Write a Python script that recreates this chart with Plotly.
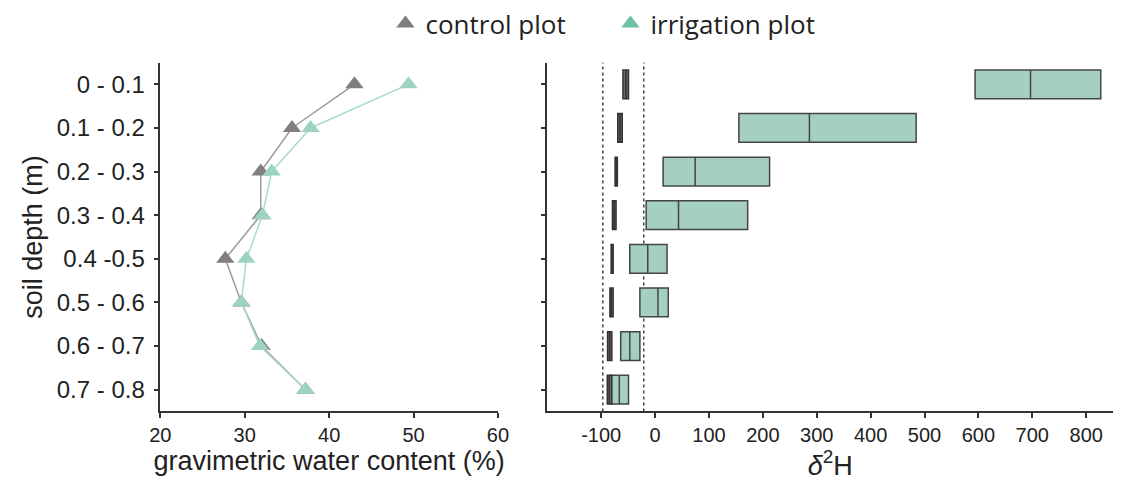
import plotly.graph_objects as go

depths = ["0 - 0.1", "0.1 - 0.2", "0.2 - 0.3", "0.3 - 0.4",
          "0.4 -0.5", "0.5 - 0.6", "0.6 - 0.7", "0.7 - 0.8"]

# gravimetric water content (%)
gwc_ticks = [20, 30, 40, 50, 60]
gwc_control = [43.0, 35.6, 31.9, 31.9, 27.7, 29.6, 32.0, 37.2]
gwc_irrigation = [49.4, 37.8, 33.2, 32.1, 30.2, 29.6, 31.8, 37.2]

# delta 2H boxes
d2h_ticks = [-100, 0, 100, 200, 300, 400, 500, 600, 700, 800]
d2h_ticklabels = ["-100", "0", "100", "200", "300", "400", "500", "600", "700", "800"]

ctrl_q1 = [-59.6, -69.3, -74.2, -79.1, -81.5, -83.8, -88.2, -88.7]
ctrl_med = [-54.2, -65.1, -72.4, -76.0, -79.6, -81.5, -84.2, -85.0]
ctrl_q3 = [-49.3, -60.9, -70.0, -72.4, -77.8, -77.8, -80.2, -80.2]

irr_q1 = [593.8, 155.5, 14.9, -16.5, -46.9, -28.2, -63.8, -82.0]
irr_med = [696.7, 286.4, 74.4, 43.5, -13.6, 5.3, -46.9, -66.4]
irr_q3 = [827.0, 484.5, 212.5, 171.8, 22.2, 24.5, -28.2, -49.3]

ref_lines = [-97, -21]

GREY = "#7f7f7f"
GREEN = "#6dbfa5"
XTICKFONT = dict(family="Liberation Sans, Arial", size=20, color="#222")
YTICKFONT = dict(family="Liberation Sans, Arial", size=24, color="#222")
TITLEFONT = dict(family="Liberation Sans, Arial", size=27, color="#222")

fig = go.Figure()

# left panel
fig.add_trace(go.Scatter(x=gwc_control, y=depths, mode="lines+markers",
                         line=dict(color="#9c9c9c", width=1.5),
                         marker=dict(symbol="triangle-up", size=16, color=GREY),
                         showlegend=False, xaxis="x", yaxis="y"))
fig.add_trace(go.Scatter(x=gwc_irrigation, y=depths, mode="lines+markers",
                         line=dict(color="#a9dacb", width=1.5),
                         marker=dict(symbol="triangle-up", size=16, color="#9fd3c1"),
                         showlegend=False, xaxis="x", yaxis="y"))

# legend-only entries
fig.add_trace(go.Scatter(x=[None], y=[None], mode="markers", name="control plot",
                         marker=dict(symbol="triangle-up", size=16, color=GREY),
                         xaxis="x", yaxis="y"))
fig.add_trace(go.Scatter(x=[None], y=[None], mode="markers", name="irrigation plot",
                         marker=dict(symbol="triangle-up", size=16, color=GREEN),
                         xaxis="x", yaxis="y"))

# right panel boxes
fig.add_trace(go.Box(y=depths, q1=irr_q1, median=irr_med, q3=irr_q3,
                     lowerfence=irr_q1, upperfence=irr_q3, orientation="h",
                     fillcolor="#a5d0c0", line=dict(color="#444", width=1.5),
                     whiskerwidth=0, width=0.66, boxpoints=False,
                     showlegend=False, xaxis="x2", yaxis="y2"))
fig.add_trace(go.Box(y=depths, q1=ctrl_q1, median=ctrl_med, q3=ctrl_q3,
                     lowerfence=ctrl_q1, upperfence=ctrl_q3, orientation="h",
                     fillcolor="#6a6a6a", line=dict(color="#333", width=1.5),
                     whiskerwidth=0, width=0.66, boxpoints=False,
                     showlegend=False, xaxis="x2", yaxis="y2"))

for v in ref_lines:
    fig.add_shape(type="line", xref="x2", yref="y2 domain", x0=v, x1=v, y0=0, y1=1,
                  line=dict(color="#444", width=1.5, dash="dot"), layer="below")

y_dom = [0.1445, 0.870]
axis_common = dict(showline=True, linecolor="#333", linewidth=1.5, ticks="outside",
                   ticklen=5, tickcolor="#333", tickwidth=1.5, showgrid=False,
                   zeroline=False)

fig.update_layout(
    width=1128, height=481,
    margin=dict(l=0, r=0, t=0, b=0),
    paper_bgcolor="white", plot_bgcolor="white",
    boxmode="overlay",
    xaxis=dict(domain=[0.1350, 0.4403], range=[20, 60], tickvals=gwc_ticks,
               tickfont=XTICKFONT,
               title=dict(text="gravimetric water content (%)", font=TITLEFONT, standoff=2),
               anchor="y", **axis_common),
    yaxis=dict(domain=y_dom, type="category", categoryarray=depths,
               range=[7.5, -0.5], anchor="x", tickfont=YTICKFONT, ticklabelstandoff=4,
               title=dict(text="soil depth (m)", font=TITLEFONT, standoff=6),
               **axis_common),
    xaxis2=dict(domain=[0.4849, 0.9965], range=[-200, 850],
                tickvals=d2h_ticks, ticktext=d2h_ticklabels, tickfont=XTICKFONT,
                title=dict(text="<i>δ</i><sup>2</sup>H", font=TITLEFONT, standoff=2),
                anchor="y2", **axis_common),
    yaxis2=dict(domain=y_dom, type="category", categoryarray=depths,
                range=[7.5, -0.5], anchor="x2", showticklabels=False, **axis_common),
    legend=dict(orientation="h", x=0.542, xanchor="center", y=1.0, yanchor="top",
                font=dict(family="Open Sans", size=26, color="#222"),
                itemwidth=30, entrywidth=180, entrywidthmode="pixels",
                bgcolor="rgba(0,0,0,0)"),
)

fig.write_html("out.html")
